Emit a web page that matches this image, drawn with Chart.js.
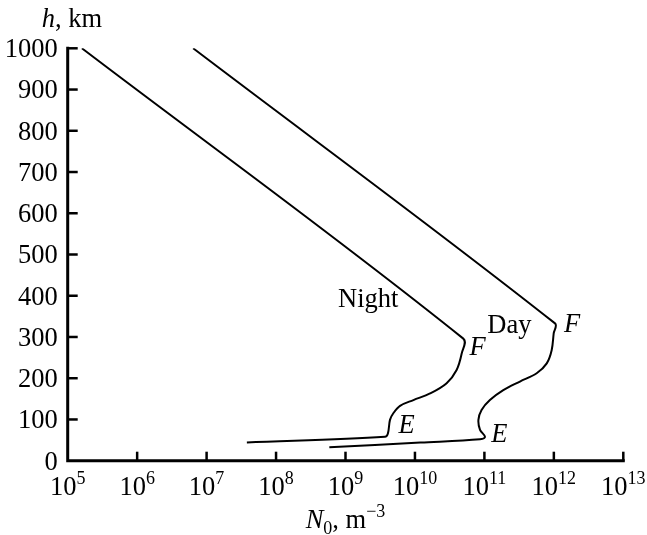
<!DOCTYPE html>
<html><head><meta charset="utf-8">
<script src="https://cdn.jsdelivr.net/npm/chart.js@4/dist/chart.umd.min.js"></script>
<style>html,body{margin:0;padding:0;background:#fff}#wrap{width:647px;height:535px;position:relative}</style>
</head><body><div id="wrap"><canvas id="c"></canvas></div>
<script>
// Electron density N0 (m^-3) vs altitude h (km)
const nightDensity  = [3.8e7, 3.7e9, 4.08e9, 4.37e9, 4.88e9, 6.1e9, 9.5e9, 1.65e10, 2.86e10, 3.98e10, 4.71e10, 4.97e10, 1.6e5];
const nightAltitude = [44,    58,    66,     99,     115,    133,   147,   163,     188,     220,     260,     296,     1000];
const dayDensity    = [5.85e8, 1.2e10, 8.65e10, 1.02e11, 8.65e10, 8.2e10, 9.1e10, 1.2e11, 1.87e11, 3.25e11, 5.66e11, 7.9e11, 9.3e11, 9.95e11, 1.04e12, 6.4e6];
const dayAltitude   = [32.5,   44,     52,      58,      75,      99,     123,    147,    171,     192,     212,     236,    268,    309,     333,     1000];

const xTickValues    = [1e5, 1e6, 1e7, 1e8, 1e9, 1e10, 1e11, 1e12, 1e13];
const xTickExponents = ['5', '6', '7', '8', '9', '10', '11', '12', '13'];
const yTickValues    = [0, 100, 200, 300, 400, 500, 600, 700, 800, 900, 1000];

const noteTexts    = ['Night', 'Day', 'F', 'F', 'E', 'E'];
const noteDensity  = [7.8e8, 1.1e11, 6.1e10, 1.4e12, 5.8e9, 1.26e11];
const noteAltitude = [373,   309,     256,    313,    66,    46];
const noteItalic   = [false, false,   true,   true,   true,  true];

const FAMILY = '"Liberation Serif","Times New Roman",serif';
const BASE = 26.5, SMALL = 18;

function pts(xs, ys){ return xs.map((v,i)=>({x:v, y:ys[i]})); }

const axesPlugin = {
  id: 'axesPlugin',
  afterDraw(chart){
    const {ctx, chartArea:a, scales:{x, y}} = chart;
    ctx.save();
    ctx.strokeStyle = '#000'; ctx.fillStyle = '#000';
    ctx.lineWidth = 3; ctx.lineCap = 'square';
    ctx.beginPath();
    ctx.moveTo(a.left, a.top); ctx.lineTo(a.left, a.bottom); ctx.lineTo(a.right, a.bottom);
    ctx.stroke();
    ctx.lineCap = 'butt'; ctx.lineWidth = 2.5;
    yTickValues.forEach(v => {
      const py = y.getPixelForValue(v);
      if (v > 0) { ctx.beginPath(); ctx.moveTo(a.left, py); ctx.lineTo(a.left + 10, py); ctx.stroke(); }
    });
    xTickValues.forEach(v => {
      const px = x.getPixelForValue(v);
      if (v > 1e5) { ctx.beginPath(); ctx.moveTo(px, a.bottom); ctx.lineTo(px, a.bottom - 9); ctx.stroke(); }
    });
    // y tick labels
    ctx.font = BASE + 'px ' + FAMILY;
    ctx.textAlign = 'right'; ctx.textBaseline = 'middle';
    yTickValues.forEach(v => {
      ctx.fillText(String(v), a.left - 10, y.getPixelForValue(v) + 2);
    });
    // x tick labels 10^n
    ctx.textAlign = 'left'; ctx.textBaseline = 'alphabetic';
    xTickValues.forEach((v, i) => {
      const px = x.getPixelForValue(v);
      ctx.font = BASE + 'px ' + FAMILY;
      const w1 = ctx.measureText('10').width;
      ctx.font = SMALL + 'px ' + FAMILY;
      const w2 = ctx.measureText(xTickExponents[i]).width;
      const left = px - (w1 + w2) / 2;
      ctx.font = BASE + 'px ' + FAMILY;
      ctx.fillText('10', left, a.bottom + 34);
      ctx.font = SMALL + 'px ' + FAMILY;
      ctx.fillText(xTickExponents[i], left + w1, a.bottom + 23);
    });
    // y title: h, km
    ctx.font = 'italic ' + BASE + 'px ' + FAMILY;
    ctx.fillText('h', a.left - 26, a.top - 21);
    const wh = ctx.measureText('h').width;
    ctx.font = BASE + 'px ' + FAMILY;
    ctx.fillText(', km', a.left - 26 + wh, a.top - 21);
    // x title: N0, m^-3
    const parts = [
      {t:'N', f:'italic ' + BASE + 'px ', dy:0},
      {t:'0', f:SMALL + 'px ', dy:6},
      {t:', m', f:BASE + 'px ', dy:0},
      {t:'\u22123', f:SMALL + 'px ', dy:-11}
    ];
    let total = 0;
    parts.forEach(p => { ctx.font = p.f + FAMILY; p.w = ctx.measureText(p.t).width; total += p.w; });
    let cx = (a.left + a.right) / 2 - total / 2;
    const by = a.bottom + 67;
    parts.forEach(p => { ctx.font = p.f + FAMILY; ctx.fillText(p.t, cx, by + p.dy); cx += p.w; });
    // annotations
    noteTexts.forEach((t, i) => {
      ctx.font = (noteItalic[i] ? 'italic ' : '') + BASE + 'px ' + FAMILY;
      ctx.fillText(t, x.getPixelForValue(noteDensity[i]), y.getPixelForValue(noteAltitude[i]));
    });
    ctx.restore();
  }
};

new Chart(document.getElementById('c'), {
  type: 'scatter',
  data: {
    datasets: [
      {label:'Night', data: pts(nightDensity, nightAltitude)},
      {label:'Day', data: pts(dayDensity, dayAltitude)}
    ].map(d => Object.assign(d, {showLine:true, borderColor:'#000', borderWidth:2, pointRadius:0, tension:0.35, fill:false}))
  },
  options: {
    responsive: true, maintainAspectRatio: false, animation: false,
    layout: {padding: {left: 67.7, right: 23.7, top: 48.3, bottom: 74.3}},
    plugins: {legend: {display:false}, tooltip: {enabled:false}},
    scales: {
      x: {type:'logarithmic', min:1e5, max:1e13, display:false},
      y: {type:'linear', min:0, max:1000, display:false}
    }
  },
  plugins: [axesPlugin]
});
</script>
</body></html>
